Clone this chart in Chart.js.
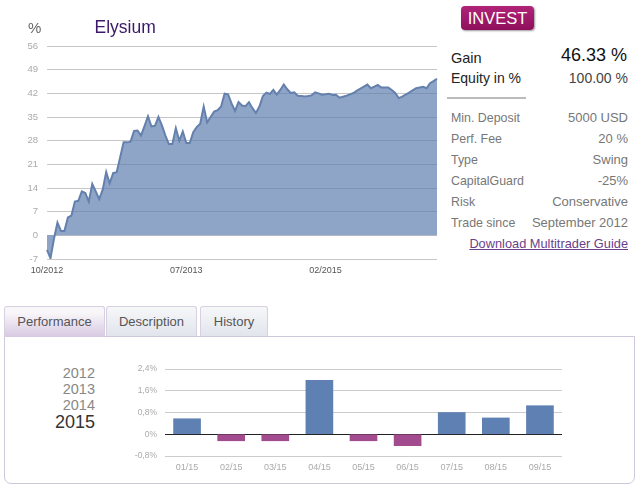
<!DOCTYPE html>
<html><head><meta charset="utf-8">
<script src="https://cdn.jsdelivr.net/npm/chart.js@4/dist/chart.umd.min.js"></script>
<style>
html,body{margin:0;padding:0;background:#fff;width:639px;height:486px;overflow:hidden;font-family:"Liberation Sans",Arial,sans-serif}
.a{position:absolute;white-space:nowrap;line-height:1}
canvas{position:absolute}
.r,.v{position:absolute;white-space:nowrap;line-height:14px;height:14px;color:#777}
.r{font-size:12.4px;left:451px}
.v{font-size:13px;right:11px}
.tab{position:absolute;top:306px;height:29px;box-sizing:content-box;border:1px solid #d6d0e0;border-bottom:none;border-radius:3px 3px 0 0;text-align:center;font-size:13px;line-height:30px;color:#555;background:linear-gradient(#f6f7f9,#e1e5ec)}
</style></head><body>
<canvas id="equity" width="445" height="290" style="left:0;top:0;width:445px;height:290px"></canvas>
<div class="a" style="left:28px;top:20px;font-size:15px;color:#666">%</div>
<div class="a" style="left:94.5px;top:18.5px;font-size:17.5px;color:#3a1a68">Elysium</div>
<div class="a" style="left:461px;top:6px;width:73px;height:24px;line-height:24px;text-align:center;color:#fff;font-size:16.5px;border-radius:4px;background:linear-gradient(#b02478,#8f0f5c);box-shadow:1px 1px 2px #999">INVEST</div>
<div class="a" style="left:451px;top:51px;font-size:14.5px;color:#222">Gain</div>
<div class="a" style="right:12px;top:46px;font-size:18px;color:#111">46.33 %</div>
<div class="a" style="left:451px;top:71px;font-size:14px;color:#222">Equity in %</div>
<div class="a" style="right:11px;top:71px;font-size:14px;color:#444">100.00 %</div>
<div class="a" style="left:447px;top:97px;width:79px;height:2px;background:#bbb"></div>
<div class="r" style="top:111px">Min. Deposit</div><div class="v" style="top:111px">5000 USD</div>
<div class="r" style="top:132px">Perf. Fee</div><div class="v" style="top:132px">20 %</div>
<div class="r" style="top:153px">Type</div><div class="v" style="top:153px">Swing</div>
<div class="r" style="top:174px">CapitalGuard</div><div class="v" style="top:174px">-25%</div>
<div class="r" style="top:195px">Risk</div><div class="v" style="top:195px">Conservative</div>
<div class="r" style="top:216px">Trade since</div><div class="v" style="top:216px">September 2012</div>
<div class="v" style="top:237px;font-size:12.8px;color:#6b3f8a;text-decoration:underline">Download Multitrader Guide</div>

<div style="position:absolute;left:4px;top:336px;width:629px;height:146px;border:1px solid #cfc8da;border-radius:0 0 7px 7px;background:#fff"></div>
<div class="tab" style="left:4px;width:99px;height:30px;background:linear-gradient(#f8f6f9 20%,#d8c8e2);z-index:2">Performance</div>
<div class="tab" style="left:106px;width:89px">Description</div>
<div class="tab" style="left:200px;width:66px">History</div>
<div class="a" style="right:544px;top:366px;font-size:14.5px;color:#888">2012</div>
<div class="a" style="right:544px;top:382px;font-size:14.5px;color:#888">2013</div>
<div class="a" style="right:544px;top:398px;font-size:14.5px;color:#888">2014</div>
<div class="a" style="right:544px;top:413px;font-size:18px;color:#333">2015</div>
<canvas id="monthly" width="480" height="130" style="left:100px;top:350px;width:480px;height:130px"></canvas>

<script>
const gainValues = [-4.3,-6.8,-1,3.8,1.3,1.3,5.3,5.8,10,10.2,13,12.5,10,15.2,13,10.7,13.5,18.7,15.4,18.4,
  18.7,23,27.5,27.5,27.7,30.9,31,29.5,32.3,35.2,32.2,32.4,35,32.5,29.5,27,27,31.7,28,30.7,
  27.3,27.3,30.5,32,33,38.1,33.4,35,36.6,37,38.1,41.9,41.7,39,36.8,39.4,38.4,38.2,39.4,37.6,
  36.2,38.1,41.2,42.2,41.8,43,41.6,43,44.6,43.2,42.1,42.3,41.3,41.2,41.1,41.2,41.4,42.3,42,41.6,
  41.7,41.9,41.5,41.6,40.7,41,41.3,41.7,42.1,42.8,43.4,44,44.6,43.5,44,44.5,43.7,43.7,43.7,43,
  42.1,40.6,41,41.6,42.2,42.9,43.5,43.7,43.9,43.5,45,45.6,46.3];
const equityDates = ['10/2012','07/2013','02/2015'];
const months = ['01/15','02/15','03/15','04/15','05/15','06/15','07/15','08/15','09/15'];
const monthlyReturns = [0.57,-0.24,-0.24,1.98,-0.24,-0.42,0.8,0.6,1.05];

const FONT = '"Liberation Sans", Arial, sans-serif';
const equityLabels = gainValues.map((_, i) => i % 40 === 0 ? equityDates[i / 40] : '');

new Chart(document.getElementById('equity'), {
  type: 'line',
  data: { labels: equityLabels, datasets: [{
    data: gainValues, borderColor: '#6480ac', borderWidth: 2, pointRadius: 0, tension: 0,
    fill: 'origin', backgroundColor: 'rgba(94,127,176,0.7)'
  }]},
  options: {
    responsive: false, animation: false, devicePixelRatio: 1,
    layout: { padding: { top: 46, right: 8, left: 0, bottom: 0 } },
    plugins: { legend: { display: false }, tooltip: { enabled: false } },
    scales: {
      x: { grid: { display: false, drawTicks: false }, border: { display: false },
        afterFit: s => { s.height = 31; },
        ticks: { autoSkip: false, maxRotation: 0, minRotation: 0, padding: 6, color: '#555', font: { family: FONT, size: 9 } } },
      y: { min: -7, max: 56, afterFit: s => { s.width = 47; },
        grid: { color: '#c6c6c6', lineWidth: 1, drawTicks: false }, border: { display: false },
        ticks: { stepSize: 7, padding: 9, color: '#aaa', font: { family: FONT, size: 9.5 } } }
    }
  }
});

new Chart(document.getElementById('monthly'), {
  type: 'bar',
  data: { labels: months, datasets: [{
    data: monthlyReturns, barThickness: 27,
    backgroundColor: monthlyReturns.map(v => v >= 0 ? '#5f80b2' : '#a34b8f')
  }]},
  options: {
    responsive: false, animation: false, devicePixelRatio: 1,
    layout: { padding: { top: 19, right: 18, left: 0, bottom: 0 } },
    plugins: { legend: { display: false }, tooltip: { enabled: false } },
    scales: {
      x: { grid: { display: false, drawTicks: false }, border: { display: false },
        afterFit: s => { s.height = 24; },
        ticks: { padding: 6, color: '#aaa', font: { family: FONT, size: 9 } } },
      y: { min: -0.8, max: 2.4, afterFit: s => { s.width = 65; },
        grid: { drawTicks: false, lineWidth: 1, color: c => Math.abs(c.tick.value) < 1e-6 ? '#222' : '#ccc' },
        border: { display: false },
        ticks: { stepSize: 0.8, padding: 8, color: '#aaa', font: { family: FONT, size: 8.5 },
          callback: v => Math.abs(v) < 1e-6 ? '0%' : v.toFixed(1).replace('.', ',') + '%' } }
    }
  }
});
</script>
</body></html>
